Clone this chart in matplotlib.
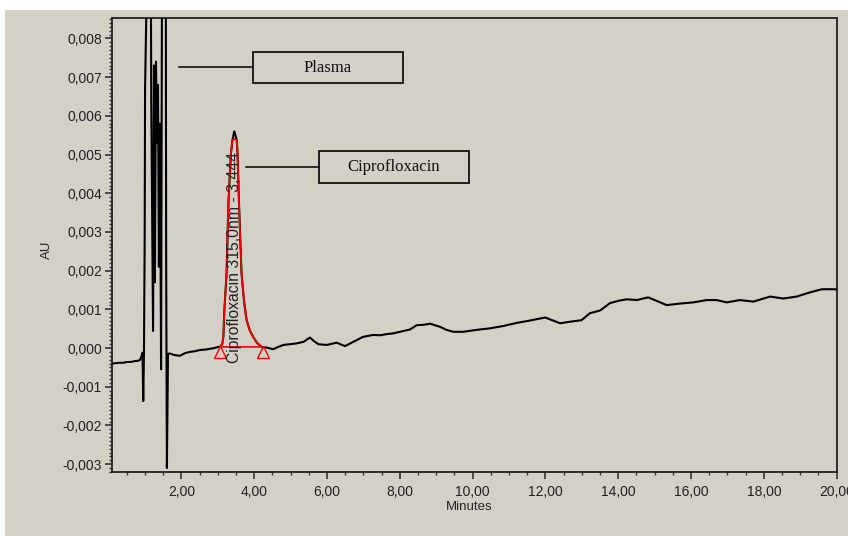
import matplotlib
matplotlib.use("Agg")
import matplotlib.pyplot as plt
from matplotlib.patches import Rectangle
from matplotlib.ticker import MultipleLocator, FuncFormatter, FixedLocator

# ---------------- data ----------------
trace_t = [0.10, 0.20, 0.30, 0.40, 0.50, 0.60, 0.70, 0.80, 0.86, 0.90, 0.93, 0.95, 0.97,
           0.99, 1.00, 1.05, 1.16, 1.17, 1.22, 1.245, 1.27, 1.30, 1.33, 1.355, 1.38, 1.41,
           1.44, 1.465, 1.57, 1.58, 1.60, 1.63, 1.68, 1.80, 1.96, 2.10, 2.23, 2.37, 2.51,
           2.65, 2.78, 2.90, 3.01, 3.06, 3.12, 3.15, 3.18, 3.24, 3.29, 3.36, 3.40, 3.45,
           3.52, 3.54, 3.58, 3.65, 3.72, 3.79, 3.88, 3.97, 4.07, 4.20, 4.35, 4.52, 4.66,
           4.80, 4.98, 5.16, 5.35, 5.53, 5.64, 5.76, 5.99, 6.13, 6.26, 6.49, 6.72, 6.99,
           7.27, 7.45, 7.64, 7.82, 8.00, 8.28, 8.46, 8.65, 8.83, 9.10, 9.28, 9.47, 9.74,
           10.11, 10.48, 10.84, 11.21, 11.57, 11.99, 12.21, 12.40, 12.67, 12.99, 13.22,
           13.50, 13.77, 14.00, 14.23, 14.51, 14.82, 15.05, 15.33, 15.70, 16.06, 16.43,
           16.70, 16.98, 17.34, 17.71, 18.17, 18.53, 18.90, 19.27, 19.59, 19.95, 20.00]
trace_mau = [-0.40, -0.39, -0.38, -0.38, -0.36, -0.36, -0.34, -0.33, -0.31, -0.22, -0.12,
             -1.37, -0.10, 2.90, 6.70, 9.50, 9.50, 6.40, 0.44, 7.30, 1.70, 7.40, 5.30, 6.80,
             2.10, 5.80, -0.55, 9.50, 9.50, 2.20, -3.10, -0.15, -0.14, -0.18, -0.20, -0.13,
             -0.10, -0.08, -0.05, -0.04, -0.02, 0.00, 0.03, 0.03, 0.10, 0.28, 1.00, 1.94,
             3.75, 5.04, 5.37, 5.60, 5.37, 5.04, 3.75, 1.94, 1.20, 0.72, 0.45, 0.29, 0.14,
             0.03, 0.01, -0.03, 0.03, 0.08, 0.10, 0.12, 0.16, 0.27, 0.18, 0.10, 0.08, 0.11,
             0.14, 0.05, 0.16, 0.29, 0.34, 0.33, 0.36, 0.38, 0.42, 0.48, 0.59, 0.60, 0.63,
             0.55, 0.47, 0.42, 0.42, 0.47, 0.51, 0.57, 0.65, 0.71, 0.79, 0.71, 0.64, 0.68,
             0.72, 0.90, 0.97, 1.16, 1.22, 1.26, 1.24, 1.31, 1.22, 1.11, 1.15, 1.18, 1.24,
             1.24, 1.18, 1.24, 1.20, 1.33, 1.28, 1.33, 1.44, 1.52, 1.52, 1.51]

# integrated peak outline (red)
peak_t = [3.06, 3.12, 3.15, 3.18, 3.24, 3.29, 3.36, 3.40, 3.46, 3.52, 3.54, 3.58, 3.65,
          3.72, 3.79, 3.88, 3.97, 4.07, 4.20]
peak_mau = [0.03, 0.10, 0.28, 1.00, 1.94, 3.75, 5.04, 5.37, 5.40, 5.37, 5.04, 3.75, 1.94,
            1.20, 0.72, 0.45, 0.29, 0.14, 0.03]
# peak start / end markers
mark_t = [3.06, 4.24]
mark_mau = [-0.10, -0.10]

peak_label = "Ciprofloxacin 315,0nm - 3,444"
x_ticks = [2, 4, 6, 8, 10, 12, 14, 16, 18, 20]
y_ticks = [-0.003, -0.002, -0.001, 0.0, 0.001, 0.002, 0.003, 0.004, 0.005, 0.006, 0.007, 0.008]

trace_v = [m / 1000.0 for m in trace_mau]
peak_v = [m / 1000.0 for m in peak_mau]
mark_v = [m / 1000.0 for m in mark_mau]

# ---------------- figure ----------------
BG = "#D4D0C8"
W, H = 848, 536
fig = plt.figure(figsize=(W / 100, H / 100), dpi=100)
fig.patch.set_facecolor("white")
fig.add_artist(Rectangle((5 / W, 0), 1, (H - 10) / H, transform=fig.transFigure,
                         facecolor=BG, edgecolor="none", zorder=-10))

ax = fig.add_axes([112.3 / W, 1 - 472.3 / H, (836.7 - 112.3) / W, (472.3 - 18.3) / H])
ax.set_facecolor(BG)

ax.plot(trace_t, trace_v, color="black", lw=1.5, zorder=3)
ax.fill(peak_t, peak_v, fill=False, edgecolor="red", lw=1.2, zorder=4)
ax.plot(mark_t, mark_v, ls="none", marker="^", ms=8.5, mfc="none", mec="red", mew=1.0,
        zorder=5, clip_on=False)

ax.text(3.45, 0.00233, peak_label, rotation=90, ha="center", va="center",
        fontsize=11.3, family="Liberation Sans", color="#222222", zorder=6)

ax.set_xlim(0.10, 20.0)
ax.set_ylim(-0.00321, 0.00852)

ax.xaxis.set_major_locator(FixedLocator(x_ticks))
ax.xaxis.set_minor_locator(MultipleLocator(0.5))
ax.yaxis.set_major_locator(FixedLocator(y_ticks))
ax.yaxis.set_minor_locator(MultipleLocator(0.0001))
ax.xaxis.set_major_formatter(FuncFormatter(lambda v, p: f"{v:.2f}".replace(".", ",")))
ax.yaxis.set_major_formatter(FuncFormatter(
    lambda v, p: f"{round(v, 4) + 0.0:.3f}".replace(".", ",")))

ax.tick_params(axis="both", which="major", direction="out", length=5, width=1.2,
               color="#333333", labelsize=10, labelcolor="#222222")
ax.tick_params(axis="both", which="minor", direction="out", length=2.5, width=1.0,
               color="#333333")
ax.tick_params(axis="x", which="major", pad=4)
ax.tick_params(axis="y", which="major", pad=2.5)
for lab in ax.get_xticklabels() + ax.get_yticklabels():
    lab.set_family("Liberation Sans")

for s in ax.spines.values():
    s.set_color("#222222")
    s.set_linewidth(1.3)

ax.set_xlabel("Minutes", fontsize=9.5, family="Liberation Sans", color="#222222")
ax.set_ylabel("AU", fontsize=9.5, family="Liberation Sans", color="#222222")
ax.xaxis.set_label_coords(0.493, -0.063)
ax.yaxis.set_label_coords(-0.082, 0.49)

# ---------------- callout boxes ----------------
def callout(x0, x1, y, bx, by, bw, bh, text):
    ax.plot([x0, x1], [y, y], color="black", lw=1.1, zorder=6)
    ax.add_patch(Rectangle((bx, by), bw, bh, facecolor="none", edgecolor="#111111",
                           lw=1.3, zorder=6))
    ax.text(bx + bw / 2, by + bh / 2, text, ha="center", va="center", fontsize=12,
            family="Liberation Serif", color="#111111", zorder=7)

callout(1.93, 3.964, 0.007253, 3.964, 0.006848, 4.121, 0.000801, "Plasma")
callout(3.764, 5.777, 0.004685, 5.777, 0.004264, 4.121, 0.000826, "Ciprofloxacin")

fig.savefig("out.png", dpi=100, facecolor=fig.get_facecolor())
